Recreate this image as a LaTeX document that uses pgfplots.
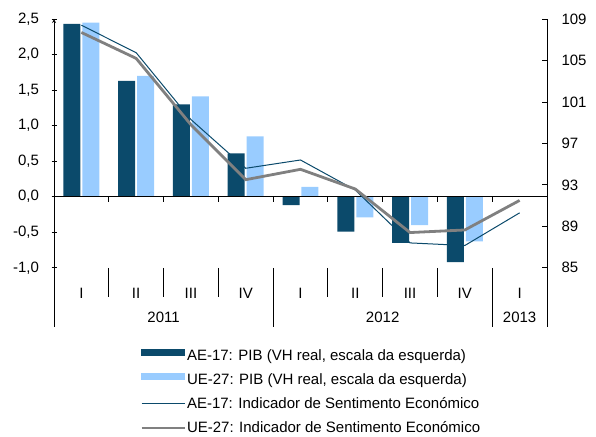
\documentclass[border=0pt]{standalone}
\usepackage{pgfplots}
\pgfplotsset{compat=1.18}
\usepackage{fontspec}
\setmainfont{Liberation Sans}
\definecolor{darkb}{RGB}{11,74,107}
\definecolor{lightb}{RGB}{153,204,255}
\definecolor{grayl}{RGB}{128,128,128}
\begin{document}
\begin{tikzpicture}[font=\fontsize{15bp}{18bp}\selectfont]
\useasboundingbox (0,0) rectangle (596bp,437bp);
\pgfplotsset{
  base/.style={
    scale only axis, width=493bp, height=248.8bp,
    at={(54bp,169.2bp)}, anchor=south west,
    xmin=0, xmax=9, axis x line=none,
    tick align=inside, major tick length=5bp,
    axis line style={-, black, line width=0.8bp},
    major tick style={black, line width=0.8bp},
    clip=false,
  }
}
\begin{axis}[base, ymin=-1, ymax=2.5, axis y line=left,
  ytick={-1,-0.5,0,0.5,1,1.5,2,2.5},
  yticklabels={{-1,0},{-0,5},{0,0},{0,5},{1,0},{1,5},{2,0},{2,5}},
  yticklabel style={xshift=-9bp},
  ybar, bar width=17bp]
\addplot[fill=darkb, draw=none] coordinates {(0.5,2.43) (1.5,1.63) (2.5,1.30) (3.5,0.61) (4.5,-0.12) (5.5,-0.49) (6.5,-0.65) (7.5,-0.92)};
\addplot[fill=lightb, draw=none] coordinates {(0.5,2.45) (1.5,1.70) (2.5,1.41) (3.5,0.85) (4.5,0.14) (5.5,-0.29) (6.5,-0.40) (7.5,-0.63)};
\draw[black, line width=0.8bp] (axis cs:0,0) -- (axis cs:9,0);
\pgfplotsinvokeforeach{1,2,3,4,5,6,7,8}{\draw[black, line width=0.8bp] (axis cs:#1,0) -- ([yshift=-5bp]axis cs:#1,0);}
\pgfplotsinvokeforeach{1,2,3,5,6,7}{\draw[black, line width=0.8bp] (axis cs:#1,-1) -- ([yshift=-29.5bp]axis cs:#1,-1);}
\pgfplotsinvokeforeach{0,4,8,9}{\draw[black, line width=0.8bp] (axis cs:#1,-1) -- ([yshift=-59.5bp]axis cs:#1,-1);}
\node at ([yshift=-26bp]axis cs:0.5,-1) {I};
\node at ([yshift=-26bp]axis cs:1.5,-1) {II};
\node at ([yshift=-26bp]axis cs:2.5,-1) {III};
\node at ([yshift=-26bp]axis cs:3.5,-1) {IV};
\node at ([yshift=-26bp]axis cs:4.5,-1) {I};
\node at ([yshift=-26bp]axis cs:5.5,-1) {II};
\node at ([yshift=-26bp]axis cs:6.5,-1) {III};
\node at ([yshift=-26bp]axis cs:7.5,-1) {IV};
\node at ([yshift=-26bp]axis cs:8.5,-1) {I};
\node at ([yshift=-50bp]axis cs:2,-1) {2011};
\node at ([yshift=-50bp]axis cs:6,-1) {2012};
\node at ([yshift=-50bp]axis cs:8.5,-1) {2013};
\end{axis}
\begin{axis}[base, ymin=85, ymax=109, axis y line*=right,
  ytick={85,89,93,97,101,105,109},
  yticklabels={85,89,93,97,101,105,109},
  yticklabel style={xshift=11bp},
  legend style={at={(axis description cs:0,0)}, anchor=north west,
    xshift=86bp, yshift=-80bp, draw=none, fill=none, inner sep=0pt,
    row sep=7.5bp, font=\fontsize{15bp}{18bp}\selectfont,
    nodes={inner xsep=1bp}},
  legend cell align=left,
  legend image code/.code={\draw[#1] (0bp,0bp) -- (43bp,0bp);}]
\addlegendimage{legend image code/.code={\fill[darkb] (0bp,1bp) rectangle (43bp,7bp);}}
\addlegendentry{AE-17: PIB (VH real, escala da esquerda)}
\addlegendimage{legend image code/.code={\fill[lightb] (0bp,1bp) rectangle (43bp,7bp);}}
\addlegendentry{UE-27: PIB (VH real, escala da esquerda)}
\addplot[darkb, line width=1bp] coordinates {(0.5,108.4) (1.5,105.75) (2.5,99.3) (3.5,94.6) (4.5,95.4) (5.5,92.5) (6.5,87.4) (7.5,87.15) (8.5,90.3)};
\addlegendentry{AE-17: Indicador de Sentimento Económico}
\addplot[grayl, line width=2.8bp] coordinates {(0.5,107.7) (1.5,105.2) (2.5,98.8) (3.5,93.5) (4.5,94.5) (5.5,92.6) (6.5,88.4) (7.5,88.65) (8.5,91.5)};
\addlegendentry{UE-27: Indicador de Sentimento Económico}
\end{axis}
\end{tikzpicture}
\end{document}
